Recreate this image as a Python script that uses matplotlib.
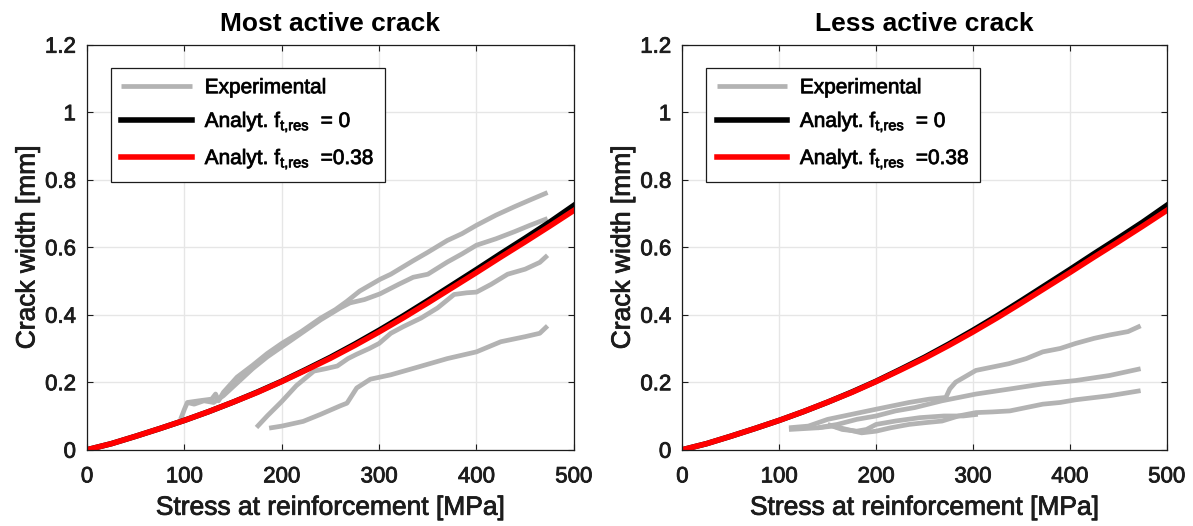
import matplotlib
matplotlib.use('Agg')
import matplotlib.pyplot as plt
import matplotlib.patheffects as pe

plt.rcParams['font.family'] = ['Liberation Sans', 'DejaVu Sans']
plt.rcParams['mathtext.default'] = 'regular'

# analytical curves
stress = [0, 25, 50, 75, 100, 125, 150, 175, 200, 225, 250, 275, 300,
          325, 350, 375, 400, 425, 450, 475, 500]
w_ft0 = [0, 0.018, 0.040, 0.063, 0.087, 0.113, 0.141, 0.171, 0.203, 0.238,
         0.274, 0.313, 0.354, 0.397, 0.442, 0.488, 0.534, 0.581, 0.627, 0.674, 0.724]
w_ft038 = [0, 0.018, 0.040, 0.063, 0.087, 0.113, 0.141, 0.170, 0.202, 0.236,
           0.271, 0.309, 0.349, 0.391, 0.435, 0.480, 0.525, 0.571, 0.616, 0.662, 0.709]

# experimental, most active crack
most_x = [
    [96, 100, 103, 115, 128, 132, 135, 140, 154, 170, 185, 200, 220, 240, 255,
     267, 280, 301, 312, 335, 350, 370, 385, 400, 420, 439, 455, 473],
    [103, 110, 120, 130, 140, 155, 170, 185, 200, 220, 240, 260, 270, 285, 301,
     320, 335, 350, 370, 385, 400, 420, 439, 455, 473],
    [174, 185, 200, 215, 233, 245, 257, 268, 277, 290, 300, 312, 325, 343, 360,
     377, 390, 400, 415, 432, 450, 465, 473],
    [187, 200, 222, 240, 260, 267, 277, 291, 312, 340, 370, 400, 425, 450, 465, 473],
]
most_y = [
    [0.09, 0.12, 0.14, 0.145, 0.15, 0.165, 0.145, 0.17, 0.215, 0.25, 0.285, 0.315,
     0.35, 0.39, 0.415, 0.44, 0.47, 0.505, 0.52, 0.56, 0.585, 0.62, 0.64, 0.665,
     0.695, 0.72, 0.74, 0.762],
    [0.14, 0.135, 0.145, 0.14, 0.16, 0.2, 0.24, 0.275, 0.305, 0.345, 0.385, 0.42,
     0.435, 0.445, 0.462, 0.49, 0.511, 0.52, 0.556, 0.58, 0.606, 0.625, 0.646,
     0.665, 0.685],
    [0.066, 0.1, 0.143, 0.19, 0.233, 0.24, 0.248, 0.27, 0.283, 0.3, 0.315, 0.345,
     0.365, 0.39, 0.42, 0.46, 0.465, 0.467, 0.49, 0.52, 0.535, 0.555, 0.576],
    [0.064, 0.07, 0.084, 0.105, 0.13, 0.138, 0.183, 0.209, 0.222, 0.245, 0.27,
     0.29, 0.32, 0.335, 0.345, 0.367],
]

# experimental, less active crack
less_x = [
    [110, 130, 150, 175, 200, 234, 255, 272, 276, 282, 303, 320, 337, 355, 372,
     390, 406, 425, 441, 460, 473],
    [110, 140, 160, 180, 200, 220, 240, 268, 303, 338, 372, 406, 441, 473],
    [140, 155, 170, 185, 200, 215, 234, 250, 268, 285, 303, 320, 338, 355, 372,
     390, 406, 441, 473],
    [150, 165, 180, 190, 200, 220, 245, 270, 290, 305],
]
less_y = [
    [0.065, 0.07, 0.09, 0.105, 0.12, 0.14, 0.15, 0.155, 0.18, 0.2, 0.235, 0.245,
     0.255, 0.27, 0.29, 0.3, 0.315, 0.33, 0.34, 0.35, 0.367],
    [0.06, 0.065, 0.075, 0.09, 0.1, 0.115, 0.125, 0.145, 0.165, 0.18, 0.195,
     0.205, 0.22, 0.24],
    [0.065, 0.07, 0.06, 0.05, 0.055, 0.065, 0.075, 0.08, 0.085, 0.1, 0.11, 0.112,
     0.115, 0.125, 0.135, 0.14, 0.148, 0.16, 0.175],
    [0.075, 0.06, 0.055, 0.06, 0.075, 0.085, 0.095, 0.1, 0.1, 0.105],
]

titles = ['Most active crack', 'Less active crack']
xticks = [0, 100, 200, 300, 400, 500]
yticks = [0, 0.2, 0.4, 0.6, 0.8, 1, 1.2]
ytick_labels = ['0', '0.2', '0.4', '0.6', '0.8', '1', '1.2']

gray = '#b3b3b3'
dark = '#1c1c1c'
thick = [pe.withStroke(linewidth=0.6, foreground=dark)]

fig = plt.figure(figsize=(11.93, 5.26), dpi=100)
ax1 = fig.add_axes([0.073, 0.145, 0.408, 0.77])
ax2 = fig.add_axes([0.572, 0.145, 0.406, 0.77])

for ax, title, ex_x, ex_y in [(ax1, titles[0], most_x, most_y),
                              (ax2, titles[1], less_x, less_y)]:
    for i, (xs, ys) in enumerate(zip(ex_x, ex_y)):
        ax.plot(xs, ys, color=gray, lw=3.4, solid_capstyle='butt',
                label='Experimental' if i == 0 else None)
    ax.plot(stress, w_ft0, color='black', lw=4.0, label='Analyt. $f_{t{,}res}$  = 0')
    ax.plot(stress, w_ft038, color='red', lw=4.0, label='Analyt. $f_{t{,}res}$  =0.38')

    ax.set_xlim(0, 500)
    ax.set_ylim(0, 1.2)
    ax.set_xticks(xticks)
    ax.set_yticks(yticks)
    ax.set_yticklabels(ytick_labels)
    ax.grid(True, color='#e6e6e6', lw=1)
    ax.set_axisbelow(True)
    ax.tick_params(direction='in', top=True, right=True, length=4, width=0.8,
                   color=dark, labelcolor=dark, labelsize=16)
    ax.tick_params(axis='x', pad=12)
    ax.tick_params(axis='y', pad=8)
    for lab in ax.get_xticklabels() + ax.get_yticklabels():
        lab.set_path_effects(thick)
    for s in ax.spines.values():
        s.set_color(dark)
        s.set_linewidth(0.9)
    ax.set_title(title, fontsize=19, fontweight='bold', pad=10, color='black')
    ax.set_xlabel('Stress at reinforcement [MPa]', fontsize=19, color=dark,
                  labelpad=6, path_effects=thick)
    ax.set_ylabel('Crack width [mm]', fontsize=19, color=dark, labelpad=4,
                  path_effects=thick)

    leg = ax.legend(loc='upper left', bbox_to_anchor=(0.049, 0.943), borderaxespad=0,
                    fontsize=15, fancybox=False, framealpha=1, edgecolor=dark,
                    handlelength=3.4, labelspacing=0.62, borderpad=0.5,
                    handletextpad=0.6)
    leg.get_frame().set_linewidth(0.9)
    for t in leg.get_texts():
        t.set_path_effects(thick)

fig.savefig('out.png', dpi=100)
